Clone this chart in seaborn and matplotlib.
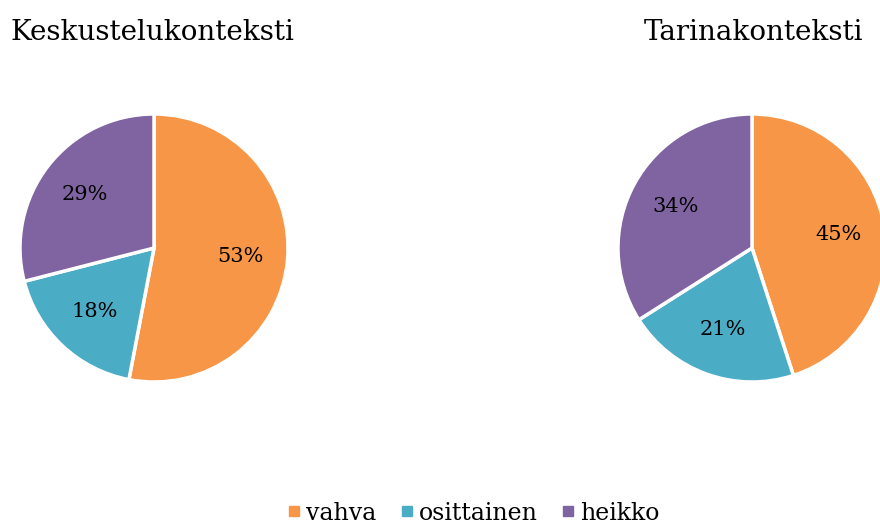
import matplotlib
matplotlib.use("Agg")
import matplotlib.pyplot as plt
import seaborn as sns
from matplotlib.lines import Line2D

# data
categories = ["vahva", "osittainen", "heikko"]
keskustelu = [53, 18, 29]
tarina = [45, 21, 34]
titles = ["Keskustelukonteksti", "Tarinakonteksti"]

sns.set_theme(style="white")
plt.rcParams['font.family'] = ['DejaVu Serif']
plt.rcParams['text.color'] = 'black'
colors = sns.color_palette(["#F79646", "#4BACC6", "#8064A2"])

W, H = 880, 527
fig = plt.figure(figsize=(W / 100, H / 100), dpi=100)

r = 134
centers = [(154, 248), (752, 248)]
for (cx, cy), vals in zip(centers, [keskustelu, tarina]):
    ax = fig.add_axes([(cx - r) / W, (H - cy - r) / H, 2 * r / W, 2 * r / H])
    ax.pie(vals, colors=colors, startangle=90, counterclock=False,
           autopct='%1.0f%%', pctdistance=0.65,
           wedgeprops=dict(edgecolor='white', linewidth=2.5),
           textprops=dict(fontsize=15, color='black'))
    ax.set_xlim(-1, 1)
    ax.set_ylim(-1, 1)
    ax.set_aspect('equal')
    ax.axis('off')

fig.text(10 / W, 1 - 33 / H, titles[0], fontsize=20, ha='left', va='center')
fig.text(863 / W, 1 - 33 / H, titles[1], fontsize=20, ha='right', va='center')

handles = [Line2D([], [], marker='s', linestyle='', markersize=7,
                  markerfacecolor=c, markeredgecolor=c) for c in colors]
fig.legend(handles, categories, loc='center', bbox_to_anchor=(472 / W, 1 - 513 / H),
           ncol=3, frameon=False, fontsize=17, handletextpad=0.1,
           columnspacing=0.9, handlelength=0.8)

fig.savefig("out.png", dpi=100)
